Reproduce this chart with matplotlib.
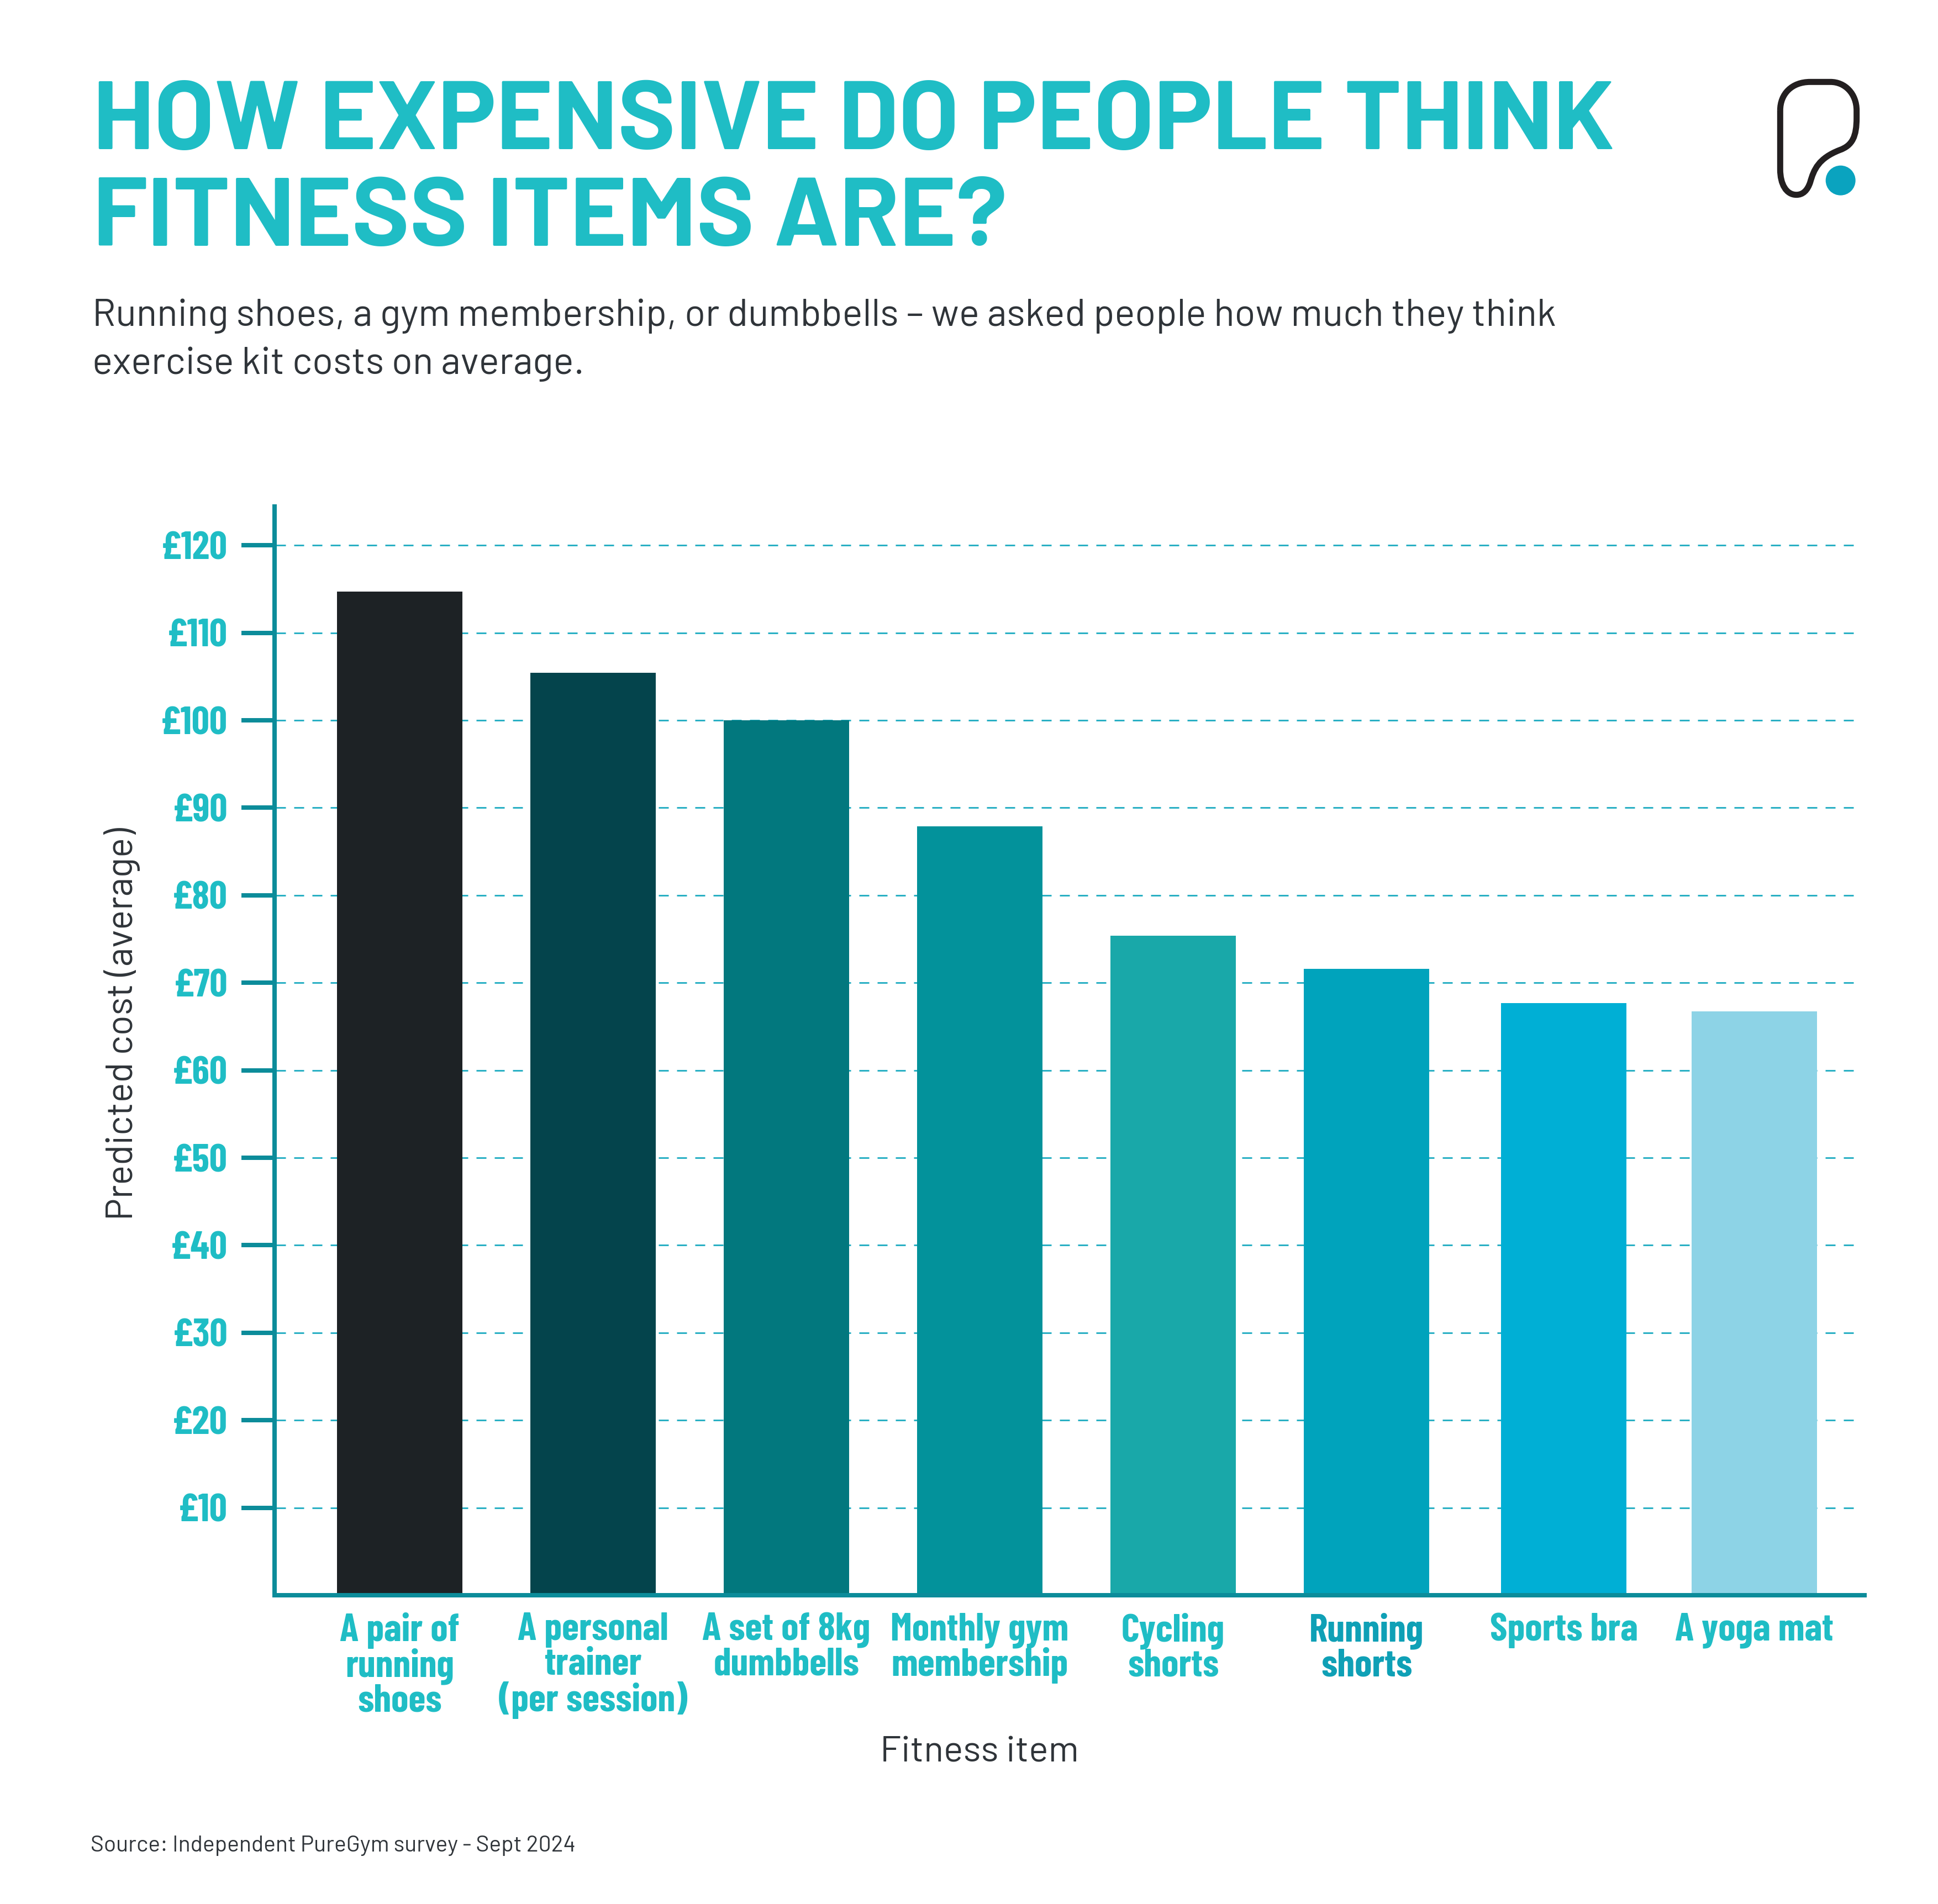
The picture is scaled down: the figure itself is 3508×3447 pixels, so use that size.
"""Bar chart of predicted fitness item costs."""

import numpy as np
from matplotlib import pyplot as plt
from matplotlib.patches import Circle, PathPatch
from matplotlib.path import Path

ITEMS = [
    "A pair of\nrunning\nshoes",
    "A personal\ntrainer\n(per session)",
    "A set of 8kg\ndumbbells",
    "Monthly gym\nmembership",
    "Cycling\nshorts",
    "Running\nshorts",
    "Sports bra",
    "A yoga mat",
]
COSTS = [114.7, 105.4, 100.0, 87.9, 75.4, 71.6, 67.7, 66.7]
BAR_COLOURS = [
    "#1d2225",
    "#04444c",
    "#02787e",
    "#03929b",
    "#19a8a9",
    "#00a3bc",
    "#00afd5",
    "#8dd3e6",
]
TICKS = list(range(10, 130, 10))
TICK_LABELS = [f"£{t}" for t in TICKS]

TEAL = "#1fbdc5"
AXIS = "#0c8c9a"
GRID = "#2bb0c4"
INK = "#2f3439"

WIDTH = 3508
HEIGHT = 3447
PX = 0.72  # points per pixel at dpi 100

BODY_FONT = ["Barlow", "Roboto"]
LABEL_FONT = ["Barlow Condensed", "Roboto"]

fig = plt.figure(figsize=(WIDTH / 100, HEIGHT / 100), dpi=100, facecolor="white")

# pixel space overlay for the header, footer and logo
page = fig.add_axes([0, 0, 1, 1], zorder=3)
page.set_xlim(0, WIDTH)
page.set_ylim(HEIGHT, 0)
page.axis("off")

left, right, bottom, top = 497, 3375, 2888, 917
ax = fig.add_axes(
    [left / WIDTH, 1 - bottom / HEIGHT, (right - left) / WIDTH, (bottom - top) / HEIGHT]
)
positions = np.arange(len(COSTS), dtype=float)
positions[6] += 0.02  # the last two bars sit slightly off the even spacing
positions[7] += 0.006
ax.bar(positions, COSTS, width=0.649, color=BAR_COLOURS, zorder=2)
ax.set_xlim(-0.647, 7.575)
ax.set_ylim(0, (bottom - top) / 15.84)

for side in ("top", "right"):
    ax.spines[side].set_visible(False)
for side in ("left", "bottom"):
    ax.spines[side].set_color(AXIS)
    ax.spines[side].set_linewidth(8 * PX)

ax.set_yticks(TICKS, TICK_LABELS)
ax.set_xticks(positions, ITEMS)
ax.tick_params(axis="y", length=60 * PX, width=8 * PX, color=AXIS, pad=25 * PX)
ax.tick_params(axis="x", length=0, pad=31 * PX)
for label in ax.get_yticklabels():
    label.set(family=LABEL_FONT, weight="bold", size=51, color=TEAL)
for label in ax.get_xticklabels():
    label.set(family=LABEL_FONT, weight="bold", size=51, color=TEAL, linespacing=0.97)
ax.get_xticklabels()[5].set_color("#0fa0b6")

ax.hlines(TICKS, -0.64, 7.56, color=GRID, linewidth=3 * PX, linestyle=(0, (6, 5)), zorder=1)

page.text(168, 270, "HOW EXPENSIVE DO PEOPLE THINK", family=BODY_FONT, weight="bold",
          size=127, color=TEAL)
page.text(168, 445, "FITNESS ITEMS ARE?", family=BODY_FONT, weight="bold", size=127, color=TEAL)
page.text(167, 590, "Running shoes, a gym membership, or dumbbells – we asked people how much they think",
          family=BODY_FONT, size=50, color=INK)
page.text(167, 677, "exercise kit costs on average.", family=BODY_FONT, size=50, color=INK)
page.text(1773, 3190, "Fitness item", family=BODY_FONT, size=48, color=INK, ha="center", va="baseline")
page.text(221, 1854, "Predicted cost (average)", family=BODY_FONT, size=48.5, color=INK,
          rotation=90, ha="center", va="center")
page.text(164, 3352, "Source: Independent PureGym survey - Sept 2024", family=BODY_FONT, size=29.4,
          color=INK, va="baseline")

# logo
logo_x = 3100
logo_y = 100
points = [
    (367, 300), (367, 620),
    (367, 700), (400, 758), (455, 758),
    (490, 758), (515, 735), (530, 690),
    (550, 620), (575, 560), (690, 515),
    (760, 490), (782, 440), (782, 340),
    (782, 300),
    (782, 210), (720, 145), (640, 145),
    (530, 145),
    (430, 145), (367, 210), (367, 300),
]
codes = [
    Path.MOVETO, Path.LINETO,
    Path.CURVE4, Path.CURVE4, Path.CURVE4,
    Path.CURVE4, Path.CURVE4, Path.CURVE4,
    Path.CURVE4, Path.CURVE4, Path.CURVE4,
    Path.CURVE4, Path.CURVE4, Path.CURVE4,
    Path.LINETO,
    Path.CURVE4, Path.CURVE4, Path.CURVE4,
    Path.LINETO,
    Path.CURVE4, Path.CURVE4, Path.CURVE4,
]
verts = [(logo_x + x / 3, logo_y + y / 3) for x, y in points]
page.add_patch(PathPatch(Path(verts, codes), fill=False, edgecolor="#231f20", linewidth=11 * PX))
page.add_patch(Circle((logo_x + 695 / 3, logo_y + 680 / 3), 26.3, color="#0aa3bf"))

fig.savefig("out.png", dpi=100)
